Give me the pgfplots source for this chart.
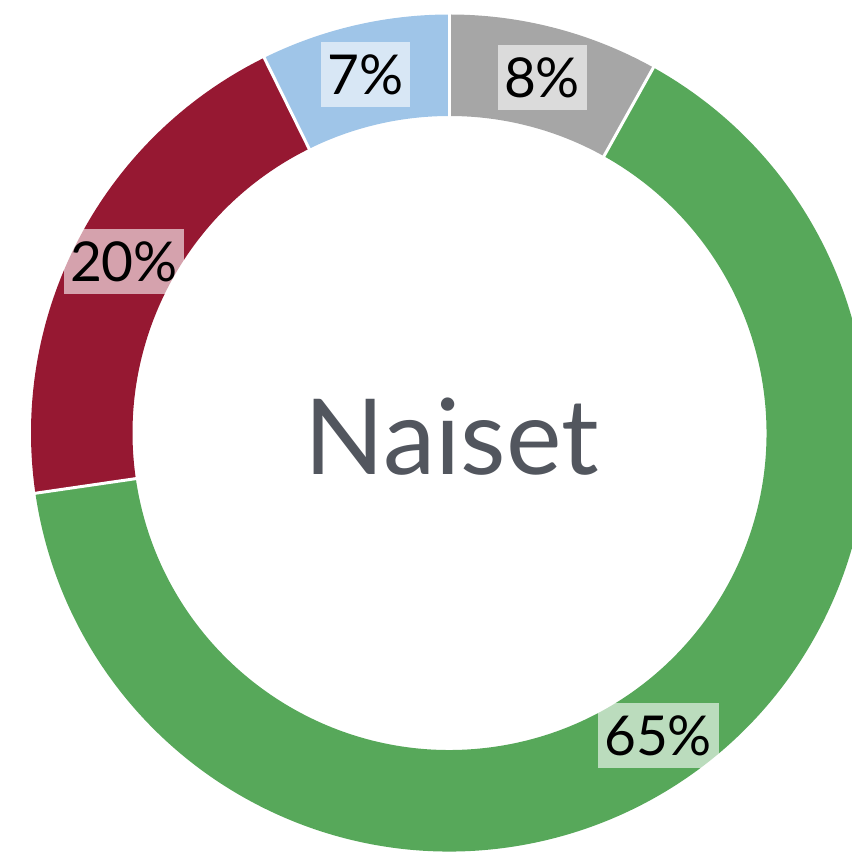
\documentclass[border=0pt]{standalone}
\usepackage{pgfplots}
\usepackage{pgfplotstable}
\pgfplotsset{compat=1.18}
\usepackage{fontspec}
\setmainfont{Lato}
\definecolor{cgray}{HTML}{A6A6A6}
\definecolor{cgreen}{HTML}{57A85A}
\definecolor{cred}{HTML}{961832}
\definecolor{cblue}{HTML}{9FC5E8}
\definecolor{ctext}{HTML}{52565E}

\pgfplotstableread{
value lab
8.1  8
64.6 65
20.0 20
7.3  7
}\donutdata

\def\cx{449.5}
\def\cy{419}
\def\Ro{418.5}
\def\Ri{317}
\def\Rm{367.75}

\newcommand\seg[3]{%
  \fill[#3] (axis cs:{\cx+\Ro*cos(#1)},{\cy+\Ro*sin(#1)})
    arc[start angle=#1, end angle=#2, radius=\Ro pt]
    -- (axis cs:{\cx+\Ri*cos(#2)},{\cy+\Ri*sin(#2)})
    arc[start angle=#2, end angle=#1, radius=\Ri pt] -- cycle;}
\newcommand\sep[1]{%
  \draw[white, line width=3pt] (axis cs:{\cx+(\Ri-3)*cos(#1)},{\cy+(\Ri-3)*sin(#1)})
    -- (axis cs:{\cx+(\Ro+3)*cos(#1)},{\cy+(\Ro+3)*sin(#1)});}
\newcommand\lab[2]{%
  \node[fill=white, fill opacity=0.6, text opacity=1, text=black,
    inner xsep=6.5pt, inner ysep=12.5pt, text height=40pt, text depth=0pt,
    font=\fontsize{55}{60}\selectfont]
    at (axis cs:{\cx+\Rm*cos(#1)},{\cy+\Rm*sin(#1)}) {#2\%};}

\begin{document}
\begin{tikzpicture}
\useasboundingbox (0,0) rectangle (852pt,852pt);
\pgfplotstablegetelem{0}{value}\of\donutdata \let\va\pgfplotsretval
\pgfplotstablegetelem{1}{value}\of\donutdata \let\vb\pgfplotsretval
\pgfplotstablegetelem{2}{value}\of\donutdata \let\vc\pgfplotsretval
\pgfplotstablegetelem{3}{value}\of\donutdata \let\vd\pgfplotsretval
\pgfplotstablegetelem{0}{lab}\of\donutdata \let\la\pgfplotsretval
\pgfplotstablegetelem{1}{lab}\of\donutdata \let\lb\pgfplotsretval
\pgfplotstablegetelem{2}{lab}\of\donutdata \let\lc\pgfplotsretval
\pgfplotstablegetelem{3}{lab}\of\donutdata \let\ld\pgfplotsretval
\pgfmathsetmacro\aA{90}
\pgfmathsetmacro\aB{\aA-3.6*\va}
\pgfmathsetmacro\aC{\aB-3.6*\vb}
\pgfmathsetmacro\aD{\aC-3.6*\vc}
\pgfmathsetmacro\aE{\aD-3.6*\vd}
\pgfmathsetmacro\mA{(\aA+\aB)/2}
\pgfmathsetmacro\mB{(\aB+\aC)/2}
\pgfmathsetmacro\mC{(\aC+\aD)/2}
\pgfmathsetmacro\mD{(\aD+\aE)/2}
\begin{axis}[hide axis, x=1pt, y=1pt, xmin=0, xmax=852, ymin=0, ymax=852,
  anchor=south west, at={(0pt,0pt)}, clip=true]
\seg{\aA}{\aB}{cgray}
\seg{\aB}{\aC}{cgreen}
\seg{\aC}{\aD}{cred}
\seg{\aD}{\aE}{cblue}
\sep{\aA}
\sep{\aB}
\sep{\aC}
\sep{\aD}
\lab{\mA}{\la}
\lab{\mB}{\lb}
\lab{\mC}{\lc}
\lab{\mD}{\ld}
\node[anchor=base, text=ctext, font=\fontsize{105}{110}\selectfont]
  at (axis cs:451.5,377) {Naiset};
\end{axis}
\end{tikzpicture}
\end{document}
